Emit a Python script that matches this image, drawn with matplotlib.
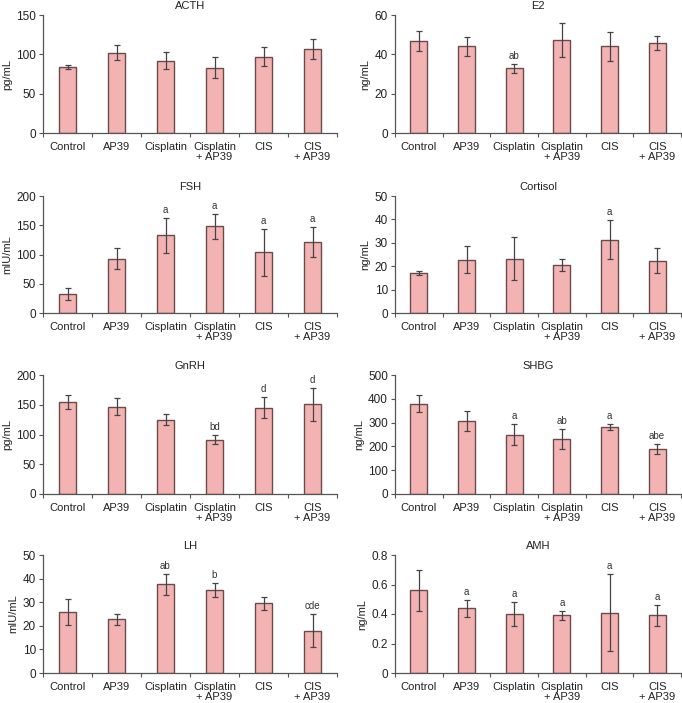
import matplotlib
matplotlib.use("Agg")
import matplotlib.pyplot as plt

categories = ["Control", "AP39", "Cisplatin", "Cisplatin\n+ AP39", "CIS", "CIS\n+ AP39"]

acth = [84, 102, 92, 83, 97, 107]
acth_err = [3, 9.5, 10.5, 13, 12, 13]
acth_lbl = ["", "", "", "", "", ""]

e2 = [46.8, 44, 32.8, 47.4, 44, 45.6]
e2_err = [5.3, 4.7, 2.1, 8.7, 7.6, 3.6]
e2_lbl = ["", "", "ab", "", "", ""]

fsh = [32, 93, 133, 148, 104, 122]
fsh_err = [10, 17.5, 30, 21, 40, 25.5]
fsh_lbl = ["", "", "a", "a", "a", "a"]

cortisol = [16.9, 22.8, 23.2, 20.5, 31.4, 22.4]
cortisol_err = [0.85, 5.7, 9.3, 2.6, 8.5, 5.3]
cortisol_lbl = ["", "", "", "", "a", ""]

gnrh = [155, 147, 125, 91, 145, 151]
gnrh_err = [11.8, 14.5, 9.8, 7.8, 18, 27.5]
gnrh_lbl = ["", "", "", "bd", "d", "d"]

shbg = [380, 307, 249, 231, 283, 189]
shbg_err = [37.5, 41, 45, 44, 12, 22]
shbg_lbl = ["", "", "a", "ab", "a", "abe"]

lh = [25.8, 22.7, 37.6, 35.2, 29.6, 17.9]
lh_err = [5.4, 2.2, 4.5, 2.9, 2.8, 7]
lh_lbl = ["", "", "ab", "b", "", "cde"]

amh = [0.56, 0.44, 0.40, 0.39, 0.41, 0.39]
amh_err = [0.14, 0.057, 0.079, 0.032, 0.26, 0.068]
amh_lbl = ["", "a", "a", "a", "a", "a"]

panels = [
    ("ACTH", "pg/mL", acth, acth_err, acth_lbl, 150, [0, 50, 100, 150], ["0", "50", "100", "150"]),
    ("E2", "ng/mL", e2, e2_err, e2_lbl, 60, [0, 20, 40, 60], ["0", "20", "40", "60"]),
    ("FSH", "mIU/mL", fsh, fsh_err, fsh_lbl, 200, [0, 50, 100, 150, 200], ["0", "50", "100", "150", "200"]),
    ("Cortisol", "ng/mL", cortisol, cortisol_err, cortisol_lbl, 50, [0, 10, 20, 30, 40, 50], ["0", "10", "20", "30", "40", "50"]),
    ("GnRH", "pg/mL", gnrh, gnrh_err, gnrh_lbl, 200, [0, 50, 100, 150, 200], ["0", "50", "100", "150", "200"]),
    ("SHBG", "ng/mL", shbg, shbg_err, shbg_lbl, 500, [0, 100, 200, 300, 400, 500], ["0", "100", "200", "300", "400", "500"]),
    ("LH", "mIU/mL", lh, lh_err, lh_lbl, 50, [0, 10, 20, 30, 40, 50], ["0", "10", "20", "30", "40", "50"]),
    ("AMH", "ng/mL", amh, amh_err, amh_lbl, 0.8, [0, 0.2, 0.4, 0.6, 0.8], ["0", "0.2", "0.4", "0.6", "0.8"]),
]

plt.rcParams["font.family"] = ["Liberation Sans", "DejaVu Sans"]

fig = plt.figure(figsize=(6.82, 7.03), dpi=100)
W, H = 682, 703
cols = [(43, 294), (395, 286)]
rows = [(15, 133), (196, 313), (375, 494), (555, 673)]

bar_color = "#F4B3B3"
edge_color = "#6b4a4a"
axis_color = "#555555"

for i, (title, ylabel, vals, errs, lbls, ymax, yt, ytl) in enumerate(panels):
    r, c = divmod(i, 2)
    left, width = cols[c]
    top, bottom = rows[r]
    ax = fig.add_axes([left / W, 1 - bottom / H, width / W, (bottom - top) / H])
    x = list(range(len(categories)))
    ax.bar(x, vals, width=0.35, color=bar_color, edgecolor=edge_color, linewidth=1.0, zorder=2)
    ax.errorbar(x, vals, yerr=errs, fmt="none", ecolor="#444444", elinewidth=0.9,
                capsize=2.5, capthick=0.9, zorder=3)
    for xi, v, e, l in zip(x, vals, errs, lbls):
        if l:
            ax.text(xi, v + e + ymax * 0.025, l, ha="center", va="bottom", fontsize=7, color="#333333")
    ax.set_xlim(-0.5, 5.5)
    ax.set_ylim(0, ymax)
    ax.set_yticks(yt)
    ax.set_yticklabels(ytl)
    ax.set_xticks([k + 0.5 for k in range(-1, 6)], minor=False)
    ax.set_xticklabels([])
    ax.set_xticks(x, minor=True)
    ax.set_xticklabels(categories, minor=True, fontsize=8, color="#222222", linespacing=1.0)
    ax.tick_params(axis="x", which="minor", length=0, pad=6.5)
    ax.tick_params(axis="x", which="major", length=3, color=axis_color, direction="out")
    ax.tick_params(axis="y", length=3, color=axis_color, labelsize=8.5, labelcolor="#222222", pad=2)
    for s in ["top", "right"]:
        ax.spines[s].set_visible(False)
    for s in ["left", "bottom"]:
        ax.spines[s].set_color(axis_color)
        ax.spines[s].set_linewidth(0.9)
    ax.set_ylabel(ylabel, fontsize=8, color="#222222", labelpad=3)
    ax.set_title(title, fontsize=8, color="#222222", pad=4)

fig.savefig("out.png", dpi=100, facecolor="white")
